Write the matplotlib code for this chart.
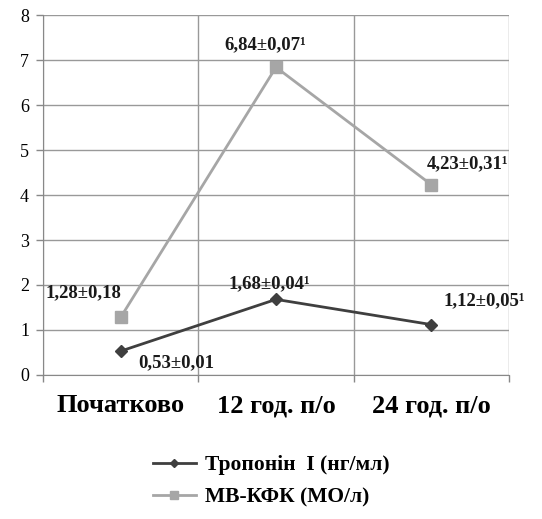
import matplotlib
matplotlib.use("Agg")
import matplotlib.pyplot as plt

categories = ["Початково", "12 год. п/о", "24 год. п/о"]
troponin = [0.53, 1.68, 1.12]
mbkfk = [1.28, 6.84, 4.23]
troponin_labels = ["0,53±0,01", "1,68±0,04¹", "1,12±0,05¹"]
mbkfk_labels = ["1,28±0,18", "6,84±0,07¹", "4,23±0,31¹"]
series_names = ["Тропонін  I (нг/мл)", "МВ-КФК (МО/л)"]

plt.rcParams['font.family'] = ['Liberation Serif', 'DejaVu Serif']

fig = plt.figure(figsize=(5.42, 5.19), dpi=100)
ax = fig.add_axes([0.0793, 0.2775, 0.8598, 0.6935])

x = list(range(len(categories)))
dark = "#3f3f3f"
light = "#a6a6a6"
l1, = ax.plot(x, troponin, color=dark, lw=2, marker='D', ms=6, mec=dark, mfc=dark)
l2, = ax.plot(x, mbkfk, color=light, lw=2, marker='s', ms=8, mec=light, mfc=light)

ax.set_xlim(-0.5, 2.5)
ax.set_ylim(0, 8)
ax.set_yticks(range(0, 9))
ax.set_xticks(x)
ax.set_xticks([-0.5, 0.5, 1.5, 2.5], minor=True)
ax.set_xticklabels(categories, fontsize=19, fontweight='bold')
ax.tick_params(axis='x', which='major', length=0, pad=14)
ax.tick_params(axis='x', which='minor', length=5, color='#888888', width=1)
ax.tick_params(axis='y', length=5, color='#888888', width=1, labelsize=13, pad=5)
ax.grid(True, axis='y', color='#999999', lw=1)
ax.grid(True, axis='x', which='minor', color='#999999', lw=1)
ax.set_axisbelow(True)
for s in ['top', 'right']:
    ax.spines[s].set_visible(False)
ax.spines['left'].set_color('#888888')
ax.spines['bottom'].set_color('#888888')

tro_off = [(56, -12), (-7, 16), (53, 24)]
mb_off = [(-37, 25), (-11, 23), (36, 21)]
for i in x:
    ax.annotate(troponin_labels[i], (x[i], troponin[i]), xytext=tro_off[i],
                textcoords='offset pixels', ha='center', va='center',
                fontsize=13.5, fontweight='bold', color='#1a1a1a')
    ax.annotate(mbkfk_labels[i], (x[i], mbkfk[i]), xytext=mb_off[i],
                textcoords='offset pixels', ha='center', va='center',
                fontsize=13.5, fontweight='bold', color='#1a1a1a')

fig.legend([l1, l2], series_names, loc='center', bbox_to_anchor=(0.5, 0.073),
           frameon=False, prop={'weight': 'bold', 'size': 15.5}, handlelength=2.0,
           handletextpad=0.4, labelspacing=0.55, markerscale=0.7)

fig.savefig("out.png", dpi=100)
